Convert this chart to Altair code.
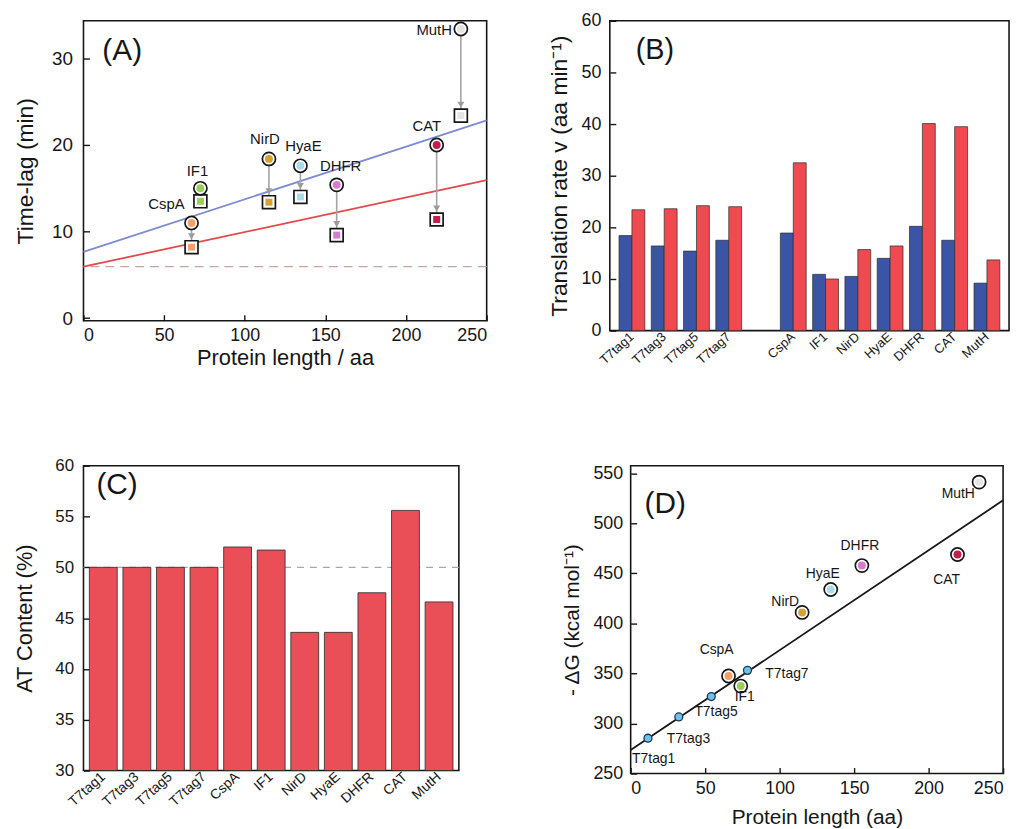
import altair as alt
import pandas as pd

FONT = "Liberation Sans"
INK = "#161616"

# ---------------- Panel A : time-lag vs protein length ----------------
a_names = ["CspA", "IF1", "NirD", "HyaE", "DHFR", "CAT", "MutH"]
a_length = [67, 72.5, 115, 134.5, 157, 219, 234]
a_lag_before = [11.0, 15.0, 18.4, 17.6, 15.4, 20.0, 33.4]
a_lag_after = [8.2, 13.5, 13.4, 14.0, 9.6, 11.4, 23.4]
a_fit_x = [0, 250]
a_fit_blue = [7.65, 22.85]
a_fit_red = [5.95, 15.95]
a_baseline = [5.95]
a_xticks = [0, 50, 100, 150, 200, 250]
a_yticks = [0, 10, 20, 30]

# ---------------- Panel B : translation rate ----------------
genes = ["T7tag1", "T7tag3", "T7tag5", "T7tag7", "CspA", "IF1",
         "NirD", "HyaE", "DHFR", "CAT", "MutH"]
b_blue = [18.4, 16.4, 15.4, 17.5, 18.9, 10.9, 10.5, 14.0, 20.2, 17.5, 9.2]
b_red = [23.4, 23.6, 24.2, 24.0, 32.5, 10.0, 15.7, 16.4, 40.1, 39.5, 13.7]
b_yticks = [0, 10, 20, 30, 40, 50, 60]

# ---------------- Panel C : AT content ----------------
c_at = [50.0, 50.0, 50.0, 50.0, 52.0, 51.7, 43.6, 43.6, 47.5, 55.6, 46.6]
c_ref = [50.0]
c_yticks = [30, 35, 40, 45, 50, 55, 60]

# ---------------- Panel D : -dG vs protein length ----------------
d_names = ["T7tag1", "T7tag3", "T7tag5", "T7tag7", "CspA", "IF1",
           "NirD", "HyaE", "DHFR", "CAT", "MutH"]
d_length = [11.6, 32.3, 54.1, 78.4, 65.7, 73.9, 115.1, 134.3, 155.2, 219.4, 233.9]
d_dg = [285.3, 306.6, 326.9, 353.1, 347.5, 337.4, 411.0, 433.9, 457.8, 468.9, 541.2]
d_fit_x = [0, 250]
d_fit_y = [273.5, 523.0]
d_xticks = [0, 50, 100, 150, 200, 250]
d_yticks = [250, 300, 350, 400, 450, 500, 550]

# ---------------- styles ----------------
gene_palette = ["#f4a06a", "#9ccc5c", "#d9a032", "#a9dbe9", "#d77bd0", "#c41e4a", "#e4e4e4"]
t7_color = "#6ec1ea"
bar_blue = "#3b55a6"
bar_red = "#ee4a50"
c_red = "#ea4f57"

color_scale = alt.Scale(domain=a_names, range=gene_palette)


def axis(title, values, lsize, tsize, lpad, tpad, **extra):
    kw = dict(title=title, labelFontSize=lsize, titleFontSize=tsize,
              labelPadding=lpad, titlePadding=tpad, ticks=False, domain=False,
              grid=False, labelFont=FONT, titleFont=FONT, labelColor=INK,
              titleColor=INK, titleFontWeight="normal")
    if values is not None:
        kw["values"] = values
    kw.update(extra)
    return alt.Axis(**kw)


def tick_axis(orient, offset, values):
    return alt.Axis(orient=orient, offset=offset, values=values, labels=False,
                    domain=False, grid=False, ticks=True, tickSize=6,
                    tickWidth=1.4, tickColor=INK, title=None)


def inner_yticks(scale, values, width):
    return alt.Chart(pd.DataFrame({"tv": values})).mark_point(opacity=0).encode(
        y=alt.Y("tv:Q", scale=scale, axis=tick_axis("right", -width, values)))


def inner_xticks(scale, values, height):
    return alt.Chart(pd.DataFrame({"tv": values})).mark_point(opacity=0).encode(
        x=alt.X("tv:Q", scale=scale, axis=tick_axis("top", -height, values)))


def panel_letter(txt, px, py, size):
    return alt.Chart(pd.DataFrame({"t": [txt]})).mark_text(
        align="left", baseline="middle", font=FONT, fontSize=size, color=INK
    ).encode(x=alt.value(px), y=alt.value(py), text="t:N")


# ================= Panel A =================
WA, HA = 406, 302
dfA = pd.DataFrame({"name": a_names, "len": a_length,
                    "before": a_lag_before, "after": a_lag_after})
xA_scale = alt.Scale(domain=[0, 250], nice=False, zero=False)
xA = alt.X("len:Q", scale=xA_scale,
           axis=axis("Protein length / aa", a_xticks, 18, 22, 6, 3))
yA_scale = alt.Scale(domain=[-0.29, 34.35], nice=False, zero=False)
yA_axis = axis("Time-lag (min)", a_yticks, 19, 23, 11, 14)


def yA(field):
    return alt.Y(f"{field}:Q", scale=yA_scale, axis=yA_axis)


baseA = alt.Chart(pd.DataFrame({"before": a_baseline})).mark_rule(
    color="#c9a4a4", strokeDash=[9, 6], strokeWidth=1.3).encode(y=yA("before"))
blueA = alt.Chart(pd.DataFrame({"len": a_fit_x, "before": a_fit_blue})).mark_line(
    color="#7d8bd3", strokeWidth=1.8).encode(x=xA, y=yA("before"))
redA = alt.Chart(pd.DataFrame({"len": a_fit_x, "before": a_fit_red})).mark_line(
    color="#e5484a", strokeWidth=1.8).encode(x=xA, y=yA("before"))
shaftA = alt.Chart(dfA).mark_rule(color="#a3a3a3", strokeWidth=1.6).encode(
    x=xA, y=yA("before"), y2="after:Q")
headA = alt.Chart(dfA).mark_point(shape="triangle-down", filled=True, color="#9c9c9c",
                                  size=50, opacity=1, yOffset=-11).encode(x=xA, y=yA("after"))
sqOut = alt.Chart(dfA).mark_point(shape="square", filled=True, fill="white", stroke=INK,
                                  strokeWidth=1.7, size=169, opacity=1).encode(x=xA, y=yA("after"))
sqIn = alt.Chart(dfA).mark_point(shape="square", filled=True, size=49, opacity=1).encode(
    x=xA, y=yA("after"), color=alt.Color("name:N", scale=color_scale, legend=None))
ciOut = alt.Chart(dfA).mark_point(shape="circle", filled=True, fill="white", stroke=INK,
                                  strokeWidth=1.7, size=175, opacity=1).encode(x=xA, y=yA("before"))
ciIn = alt.Chart(dfA).mark_point(shape="circle", filled=True, size=64, opacity=1).encode(
    x=xA, y=yA("before"), color=alt.Color("name:N", scale=color_scale, legend=None))

a_label_style = {
    "CspA": ("right", -7, -19),
    "IF1": ("center", -3, -17),
    "NirD": ("center", -4, -20),
    "HyaE": ("center", 3, -20),
    "DHFR": ("center", 4, -19),
    "CAT": ("center", -10, -19),
    "MutH": ("right", -9, 1),
}
labelsA = []
for n, (al, dx, dy) in a_label_style.items():
    labelsA.append(
        alt.Chart(dfA).transform_filter(alt.datum.name == n).mark_text(
            align=al, baseline="middle", dx=dx, dy=dy, font=FONT, fontSize=15, color=INK
        ).encode(x=xA, y=yA("before"), text="name:N"))

mainA = alt.layer(baseA, blueA, redA, shaftA, headA, sqOut, sqIn, ciOut, ciIn,
                  *labelsA, panel_letter("(A)", 19, 30, 30))
panelA = alt.layer(mainA, inner_yticks(yA_scale, a_yticks, WA),
                   inner_xticks(xA_scale, a_xticks, HA)).resolve_scale(
    x="independent", y="independent").properties(width=WA, height=HA)

# ================= Panel B =================
WB, HB = 402, 312
b_order = genes[:4] + [" "] + genes[4:]
dfB = pd.DataFrame({"gene": genes * 2,
                    "series": ["blue"] * len(genes) + ["red"] * len(genes),
                    "rate": b_blue + b_red})
yB_scale = alt.Scale(domain=[0, 60], nice=False)
barsB = alt.Chart(dfB).mark_bar(stroke="#2a2a2a", strokeWidth=0.7).encode(
    x=alt.X("gene:N", sort=b_order,
            scale=alt.Scale(domain=b_order, paddingInner=0.2, paddingOuter=0.285),
            axis=axis(None, None, 13, 14, 4, 4, labelAngle=-42, labelAlign="right",
                      labelBaseline="middle")),
    xOffset=alt.XOffset("series:N", sort=["blue", "red"],
                        scale=alt.Scale(domain=["blue", "red"], paddingInner=0, paddingOuter=0)),
    y=alt.Y("rate:Q", scale=yB_scale,
            axis=axis("Translation rate v (aa min⁻¹)", b_yticks, 18, 23, 9, 10)),
    color=alt.condition(alt.datum.series == "blue", alt.value(bar_blue), alt.value(bar_red)),
)
mainB = alt.layer(barsB, panel_letter("(B)", 26, 29, 29))
panelB = alt.layer(mainB, inner_yticks(yB_scale, b_yticks, WB)).resolve_scale(
    y="independent").properties(width=WB, height=HB)

# ================= Panel C =================
WC, HC = 378, 307
dfC = pd.DataFrame({"gene": genes, "at": c_at})
xC = alt.X("gene:N", sort=genes,
           scale=alt.Scale(domain=genes, paddingInner=0.17, paddingOuter=0.175),
           axis=axis(None, None, 14, 14, 4, 4, labelAngle=-42, labelAlign="right",
                     labelBaseline="middle"))
yC_scale = alt.Scale(domain=[30, 60], nice=False, zero=False)
yC_axis = axis("AT Content (%)", c_yticks, 17, 22, 10, 18)
refC = alt.Chart(pd.DataFrame({"at": c_ref})).mark_rule(
    color="#a8a8a8", strokeDash=[7, 6], strokeWidth=1.4).encode(
    y=alt.Y("at:Q", scale=yC_scale, axis=yC_axis))
barsC = alt.Chart(dfC).mark_bar(color=c_red, stroke="#2a2a2a", strokeWidth=0.8).encode(
    x=xC, y=alt.Y("at:Q", scale=yC_scale, axis=yC_axis), y2=alt.datum(30))
mainC = alt.layer(refC, barsC, panel_letter("(C)", 13, 19, 30))
panelC = alt.layer(mainC, inner_yticks(yC_scale, c_yticks, WC)).resolve_scale(
    y="independent").properties(width=WC, height=HC)

# ================= Panel D =================
WD, HD = 375, 310
dfD = pd.DataFrame({"name": d_names, "len": d_length, "dg": d_dg})
xD_scale = alt.Scale(domain=[0, 250], nice=False, zero=False)
yD_scale = alt.Scale(domain=[250, 557.6], nice=False, zero=False)
xD = alt.X("len:Q", scale=xD_scale,
           axis=axis("Protein length (aa)", d_xticks, 18, 21, 6, 9))
yD = alt.Y("dg:Q", scale=yD_scale,
           axis=axis("- ΔG (kcal mol⁻¹)", d_yticks, 18, 21, 8, 10))
fitD = alt.Chart(pd.DataFrame({"len": d_fit_x, "dg": d_fit_y})).mark_line(
    color=INK, strokeWidth=1.8).encode(x=xD, y=yD)
is_t7 = "indexof(datum.name, 'T7') == 0"
t7D = alt.Chart(dfD).transform_filter(is_t7).mark_point(
    shape="circle", filled=True, fill=t7_color, stroke="#1c3550", strokeWidth=1.3,
    size=64, opacity=1).encode(x=xD, y=yD)
gOut = alt.Chart(dfD).transform_filter("!(" + is_t7 + ")").mark_point(
    shape="circle", filled=True, fill="white", stroke=INK, strokeWidth=1.7,
    size=175, opacity=1).encode(x=xD, y=yD)
gIn = alt.Chart(dfD).transform_filter("!(" + is_t7 + ")").mark_point(
    shape="circle", filled=True, size=64, opacity=1).encode(
    x=xD, y=yD, color=alt.Color("name:N", scale=color_scale, legend=None))

d_label_style = {
    "T7tag1": ("left", -16, 21),
    "T7tag3": ("left", -12, 22),
    "T7tag5": ("left", -17, 16),
    "T7tag7": ("left", 18, 4),
    "CspA": ("center", -12, -26),
    "IF1": ("center", 4, 11),
    "NirD": ("center", -17, -10),
    "HyaE": ("center", -8, -16),
    "DHFR": ("center", -2, -20),
    "CAT": ("center", -11, 26),
    "MutH": ("center", -21, 12),
}
labelsD = []
for n, (al, dx, dy) in d_label_style.items():
    labelsD.append(
        alt.Chart(dfD).transform_filter(alt.datum.name == n).mark_text(
            align=al, baseline="middle", dx=dx, dy=dy, font=FONT, fontSize=14, color=INK
        ).encode(x=xD, y=yD, text="name:N"))

mainD = alt.layer(fitD, t7D, gOut, gIn, *labelsD, panel_letter("(D)", 14, 39, 30))
panelD = alt.layer(mainD, inner_yticks(yD_scale, d_yticks, WD),
                   inner_xticks(xD_scale, d_xticks, HD)).resolve_scale(
    x="independent", y="independent").properties(width=WD, height=HD)

# ================= layout =================
row1 = alt.hconcat(panelA, panelB, spacing=124, bounds="flush")
row2 = alt.hconcat(panelC, panelD, spacing=173, bounds="flush")
chart = alt.vconcat(row1, row2, spacing=87).properties(
    padding={"left": 5, "top": 0, "right": 5, "bottom": 5}
).configure_view(stroke=INK, strokeWidth=1.6)

chart.save("out.html", embed_options={"renderer": "svg", "actions": False})
